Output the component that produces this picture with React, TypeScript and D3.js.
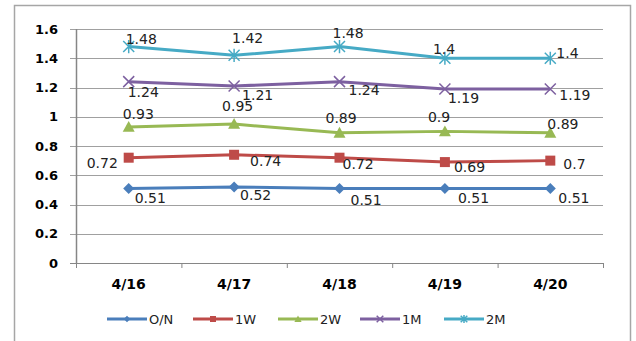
import React from "react";
import * as d3 from "d3";

const categories = ["4/16", "4/17", "4/18", "4/19", "4/20"];
const seriesNames = ["O/N", "1W", "2W", "1M", "2M"];
const onValues = [0.51, 0.52, 0.51, 0.51, 0.51];
const w1Values = [0.72, 0.74, 0.72, 0.69, 0.7];
const w2Values = [0.93, 0.95, 0.89, 0.9, 0.89];
const m1Values = [1.24, 1.21, 1.24, 1.19, 1.19];
const m2Values = [1.48, 1.42, 1.48, 1.4, 1.4];
const yTicks = [0, 0.2, 0.4, 0.6, 0.8, 1, 1.2, 1.4, 1.6];

const colors = ["#4a7ebb", "#be4b48", "#98b954", "#7d60a0", "#46aac5"];
const markerTypes = ["diamond", "square", "triangle", "x", "star"];
// label offsets (dx, dy) relative to each point
const labelOffsets: [number, number][][] = [
  [[6, 10], [6, 8], [11, 12], [13, 10], [8, 10]],
  [[-42, 5], [16, 6], [3, 6], [9, 5], [13, 3]],
  [[-6, -13], [-12, -18], [-14, -15], [-17, -14], [-3, -9]],
  [[-1, 10], [8, 9], [9, 8], [3, 9], [9, 6]],
  [[-3, -8], [-2, -17], [-7, -14], [-12, -9], [6, -5]],
];

const allValues = [onValues, w1Values, w2Values, m1Values, m2Values];

function Marker({ type, x, y, color, s = 1 }: any) {
  if (type === "diamond") {
    const r = 5.5 * s;
    return <path d={`M${x},${y - r}L${x + r},${y}L${x},${y + r}L${x - r},${y}Z`} fill={color} />;
  }
  if (type === "square") {
    const r = 5 * s;
    return <rect x={x - r} y={y - r} width={2 * r} height={2 * r} fill={color} />;
  }
  if (type === "triangle") {
    const r = 6 * s;
    return <path d={`M${x},${y - r}L${x + r},${y + r * 0.8}L${x - r},${y + r * 0.8}Z`} fill={color} />;
  }
  if (type === "x") {
    const r = 5.5 * s;
    return (
      <path d={`M${x - r},${y - r}L${x + r},${y + r}M${x - r},${y + r}L${x + r},${y - r}`} stroke={color} strokeWidth={1.5} fill="none" />
    );
  }
  const r = 5.5 * s;
  return (
    <path
      d={`M${x - r},${y - r}L${x + r},${y + r}M${x - r},${y + r}L${x + r},${y - r}M${x},${y - r * 1.2}L${x},${y + r * 1.2}`}
      stroke={color}
      strokeWidth={1.5}
      fill="none"
    />
  );
}

export default function App() {
  const left = 76, right = 603, top = 29, bottom = 263;
  const x = d3.scaleBand<string>().domain(categories).range([left, right]).padding(0);
  const y = d3.scaleLinear().domain([0, 1.6]).range([bottom, top]);
  const line = d3
    .line<number>()
    .x((_, i) => (x(categories[i]) as number) + x.bandwidth() / 2)
    .y((d) => y(d));
  const font = "'DejaVu Sans', Verdana, sans-serif";
  const boundaries = categories.map((c) => x(c) as number).concat([right]);
  const legendX = [107, 193, 278, 360, 444];
  const legendY = 319;

  return (
    <svg width={636} height={341} style={{ position: "absolute", left: 0, top: 0 }} fontFamily={font}>
      <rect x={0} y={0} width={636} height={341} fill="#fff" />
      <rect x={14.5} y={5.5} width={616} height={345} fill="none" stroke="#a6a6a6" strokeWidth={1.5} />
      {yTicks.map((t) => (
        <g key={t}>
          <line x1={70} x2={right} y1={Math.round(y(t)) + 0.5} y2={Math.round(y(t)) + 0.5} stroke={t === 0 ? "#868686" : "#a0a0a0"} strokeWidth={1} />
          <text x={58} y={y(t)} textAnchor="end" dominantBaseline="central" fontWeight="bold" fontSize={13} fill="#000">
            {d3.format("~g")(t)}
          </text>
        </g>
      ))}
      <line x1={left + 0.5} x2={left + 0.5} y1={top} y2={bottom} stroke="#868686" strokeWidth={1.5} />
      {boundaries.map((b, i) => (
        <line key={i} x1={b + 0.5} x2={b + 0.5} y1={bottom} y2={bottom + 5} stroke="#868686" />
      ))}
      {categories.map((c) => (
        <text key={c} x={(x(c) as number) + x.bandwidth() / 2} y={284} textAnchor="middle" dominantBaseline="central" fontWeight="bold" fontSize={14}>
          {c}
        </text>
      ))}
      {allValues.map((vals, si) => (
        <g key={si}>
          <path d={line(vals) as string} fill="none" stroke={colors[si]} strokeWidth={3} strokeLinejoin="round" />
          {vals.map((v, i) => (
            <Marker key={i} type={markerTypes[si]} x={(x(categories[i]) as number) + x.bandwidth() / 2} y={y(v)} color={colors[si]} />
          ))}
        </g>
      ))}
      {allValues.map((vals, si) =>
        vals.map((v, i) => (
          <text
            key={`${si}-${i}`}
            x={(x(categories[i]) as number) + x.bandwidth() / 2 + labelOffsets[si][i][0]}
            y={y(v) + labelOffsets[si][i][1]}
            dominantBaseline="central"
            fontSize={14}
            fill="#222"
          >
            {String(v)}
          </text>
        ))
      )}
      {seriesNames.map((n, i) => (
        <g key={n}>
          <line x1={legendX[i]} x2={legendX[i] + 40} y1={legendY} y2={legendY} stroke={colors[i]} strokeWidth={3} />
          <Marker type={markerTypes[i]} x={legendX[i] + 20} y={legendY} color={colors[i]} s={0.6} />
          <text x={legendX[i] + 42} y={legendY} dominantBaseline="central" fontSize={13} fill="#222">
            {n}
          </text>
        </g>
      ))}
    </svg>
  );
}
